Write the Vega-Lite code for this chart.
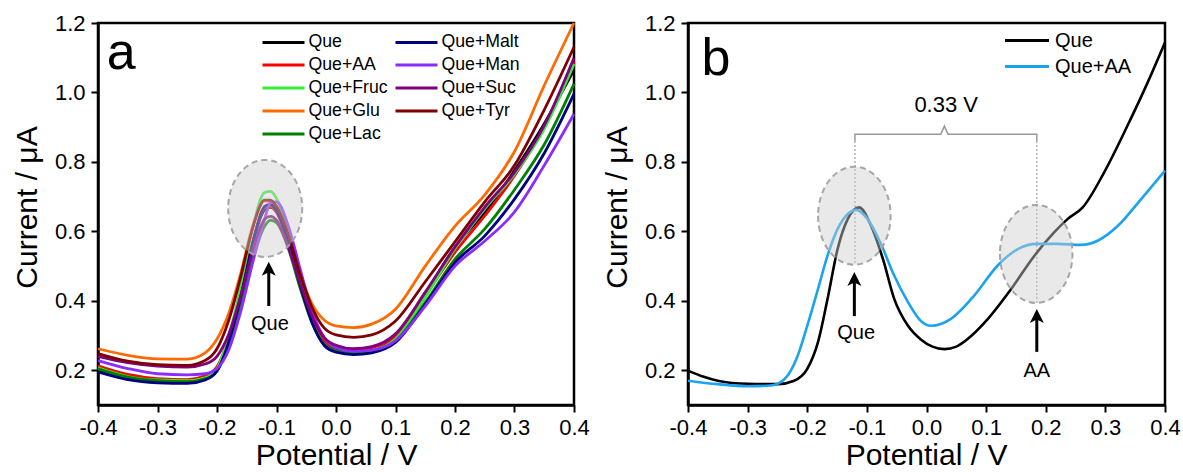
{
  "$schema": "https://vega.github.io/schema/vega-lite/v6.json",
  "padding": {"left": 10, "top": 10, "right": 0, "bottom": 0},
  "config": {
    "font": "Liberation Sans",
    "view": {"stroke": "black", "strokeWidth": 2.5},
    "axis": {
      "grid": false, "domainColor": "black", "domainWidth": 2.5, "tickColor": "black", "tickWidth": 2,
      "labelColor": "black", "labelFontSize": 22, "labelOverlap": false, "labelFlush": false,
      "titleColor": "black", "titleFontSize": 30, "titleFontWeight": "normal"
    },
    "legend": {"padding": 0, "offset": 0, "labelColor": "black", "titleColor": "black"}
  },
  "datasets": {
    "a": [
      {"p":-0.4,"c":0.200,"s":"Que"},{"p":-0.35,"c":0.178,"s":"Que"},{"p":-0.3,"c":0.168,"s":"Que"},{"p":-0.25,"c":0.165,"s":"Que"},{"p":-0.22,"c":0.177,"s":"Que"},{"p":-0.2,"c":0.203,"s":"Que"},{"p":-0.18,"c":0.289,"s":"Que"},{"p":-0.16,"c":0.418,"s":"Que"},{"p":-0.14,"c":0.567,"s":"Que"},{"p":-0.12,"c":0.662,"s":"Que"},{"p":-0.11,"c":0.669,"s":"Que"},{"p":-0.1,"c":0.656,"s":"Que"},{"p":-0.08,"c":0.569,"s":"Que"},{"p":-0.06,"c":0.447,"s":"Que"},{"p":-0.04,"c":0.341,"s":"Que"},{"p":-0.02,"c":0.277,"s":"Que"},{"p":0,"c":0.258,"s":"Que"},{"p":0.03,"c":0.248,"s":"Que"},{"p":0.06,"c":0.255,"s":"Que"},{"p":0.1,"c":0.295,"s":"Que"},{"p":0.15,"c":0.42,"s":"Que"},{"p":0.2,"c":0.555,"s":"Que"},{"p":0.25,"c":0.655,"s":"Que"},{"p":0.3,"c":0.775,"s":"Que"},{"p":0.35,"c":0.91,"s":"Que"},{"p":0.4,"c":1.065,"s":"Que"},
      {"p":-0.4,"c":0.213,"s":"Que+AA"},{"p":-0.35,"c":0.188,"s":"Que+AA"},{"p":-0.3,"c":0.176,"s":"Que+AA"},{"p":-0.25,"c":0.173,"s":"Que+AA"},{"p":-0.22,"c":0.184,"s":"Que+AA"},{"p":-0.2,"c":0.21,"s":"Que+AA"},{"p":-0.18,"c":0.293,"s":"Que+AA"},{"p":-0.16,"c":0.42,"s":"Que+AA"},{"p":-0.14,"c":0.57,"s":"Que+AA"},{"p":-0.12,"c":0.668,"s":"Que+AA"},{"p":-0.11,"c":0.673,"s":"Que+AA"},{"p":-0.1,"c":0.655,"s":"Que+AA"},{"p":-0.08,"c":0.565,"s":"Que+AA"},{"p":-0.06,"c":0.445,"s":"Que+AA"},{"p":-0.04,"c":0.345,"s":"Que+AA"},{"p":-0.02,"c":0.285,"s":"Que+AA"},{"p":0,"c":0.265,"s":"Que+AA"},{"p":0.03,"c":0.258,"s":"Que+AA"},{"p":0.06,"c":0.265,"s":"Que+AA"},{"p":0.1,"c":0.298,"s":"Que+AA"},{"p":0.15,"c":0.415,"s":"Que+AA"},{"p":0.2,"c":0.54,"s":"Que+AA"},{"p":0.25,"c":0.645,"s":"Que+AA"},{"p":0.3,"c":0.76,"s":"Que+AA"},{"p":0.35,"c":0.90,"s":"Que+AA"},{"p":0.4,"c":1.09,"s":"Que+AA"},
      {"p":-0.4,"c":0.207,"s":"Que+Fruc"},{"p":-0.35,"c":0.182,"s":"Que+Fruc"},{"p":-0.3,"c":0.172,"s":"Que+Fruc"},{"p":-0.25,"c":0.170,"s":"Que+Fruc"},{"p":-0.22,"c":0.178,"s":"Que+Fruc"},{"p":-0.2,"c":0.205,"s":"Que+Fruc"},{"p":-0.18,"c":0.30,"s":"Que+Fruc"},{"p":-0.16,"c":0.44,"s":"Que+Fruc"},{"p":-0.14,"c":0.61,"s":"Que+Fruc"},{"p":-0.12,"c":0.712,"s":"Que+Fruc"},{"p":-0.11,"c":0.715,"s":"Que+Fruc"},{"p":-0.1,"c":0.695,"s":"Que+Fruc"},{"p":-0.08,"c":0.595,"s":"Que+Fruc"},{"p":-0.06,"c":0.455,"s":"Que+Fruc"},{"p":-0.04,"c":0.34,"s":"Que+Fruc"},{"p":-0.02,"c":0.275,"s":"Que+Fruc"},{"p":0,"c":0.255,"s":"Que+Fruc"},{"p":0.03,"c":0.248,"s":"Que+Fruc"},{"p":0.06,"c":0.255,"s":"Que+Fruc"},{"p":0.1,"c":0.29,"s":"Que+Fruc"},{"p":0.15,"c":0.41,"s":"Que+Fruc"},{"p":0.2,"c":0.55,"s":"Que+Fruc"},{"p":0.25,"c":0.665,"s":"Que+Fruc"},{"p":0.3,"c":0.765,"s":"Que+Fruc"},{"p":0.35,"c":0.895,"s":"Que+Fruc"},{"p":0.4,"c":1.082,"s":"Que+Fruc"},
      {"p":-0.4,"c":0.262,"s":"Que+Glu"},{"p":-0.35,"c":0.243,"s":"Que+Glu"},{"p":-0.3,"c":0.233,"s":"Que+Glu"},{"p":-0.25,"c":0.232,"s":"Que+Glu"},{"p":-0.22,"c":0.25,"s":"Que+Glu"},{"p":-0.2,"c":0.29,"s":"Que+Glu"},{"p":-0.18,"c":0.365,"s":"Que+Glu"},{"p":-0.16,"c":0.48,"s":"Que+Glu"},{"p":-0.14,"c":0.615,"s":"Que+Glu"},{"p":-0.12,"c":0.688,"s":"Que+Glu"},{"p":-0.11,"c":0.685,"s":"Que+Glu"},{"p":-0.1,"c":0.665,"s":"Que+Glu"},{"p":-0.08,"c":0.585,"s":"Que+Glu"},{"p":-0.06,"c":0.475,"s":"Que+Glu"},{"p":-0.04,"c":0.39,"s":"Que+Glu"},{"p":-0.02,"c":0.345,"s":"Que+Glu"},{"p":0,"c":0.328,"s":"Que+Glu"},{"p":0.03,"c":0.323,"s":"Que+Glu"},{"p":0.06,"c":0.333,"s":"Que+Glu"},{"p":0.1,"c":0.376,"s":"Que+Glu"},{"p":0.15,"c":0.50,"s":"Que+Glu"},{"p":0.2,"c":0.615,"s":"Que+Glu"},{"p":0.25,"c":0.705,"s":"Que+Glu"},{"p":0.3,"c":0.83,"s":"Que+Glu"},{"p":0.35,"c":1.02,"s":"Que+Glu"},{"p":0.4,"c":1.2,"s":"Que+Glu"},
      {"p":-0.4,"c":0.204,"s":"Que+Lac"},{"p":-0.35,"c":0.18,"s":"Que+Lac"},{"p":-0.3,"c":0.17,"s":"Que+Lac"},{"p":-0.25,"c":0.167,"s":"Que+Lac"},{"p":-0.22,"c":0.175,"s":"Que+Lac"},{"p":-0.2,"c":0.198,"s":"Que+Lac"},{"p":-0.18,"c":0.272,"s":"Que+Lac"},{"p":-0.16,"c":0.385,"s":"Que+Lac"},{"p":-0.14,"c":0.52,"s":"Que+Lac"},{"p":-0.12,"c":0.615,"s":"Que+Lac"},{"p":-0.11,"c":0.632,"s":"Que+Lac"},{"p":-0.1,"c":0.625,"s":"Que+Lac"},{"p":-0.08,"c":0.55,"s":"Que+Lac"},{"p":-0.06,"c":0.435,"s":"Que+Lac"},{"p":-0.04,"c":0.335,"s":"Que+Lac"},{"p":-0.02,"c":0.275,"s":"Que+Lac"},{"p":0,"c":0.255,"s":"Que+Lac"},{"p":0.03,"c":0.248,"s":"Que+Lac"},{"p":0.06,"c":0.252,"s":"Que+Lac"},{"p":0.1,"c":0.285,"s":"Que+Lac"},{"p":0.15,"c":0.395,"s":"Que+Lac"},{"p":0.2,"c":0.52,"s":"Que+Lac"},{"p":0.25,"c":0.607,"s":"Que+Lac"},{"p":0.3,"c":0.72,"s":"Que+Lac"},{"p":0.35,"c":0.85,"s":"Que+Lac"},{"p":0.4,"c":1.025,"s":"Que+Lac"},
      {"p":-0.4,"c":0.195,"s":"Que+Malt"},{"p":-0.35,"c":0.173,"s":"Que+Malt"},{"p":-0.3,"c":0.164,"s":"Que+Malt"},{"p":-0.25,"c":0.162,"s":"Que+Malt"},{"p":-0.22,"c":0.172,"s":"Que+Malt"},{"p":-0.2,"c":0.198,"s":"Que+Malt"},{"p":-0.18,"c":0.283,"s":"Que+Malt"},{"p":-0.16,"c":0.413,"s":"Que+Malt"},{"p":-0.14,"c":0.565,"s":"Que+Malt"},{"p":-0.12,"c":0.672,"s":"Que+Malt"},{"p":-0.11,"c":0.678,"s":"Que+Malt"},{"p":-0.1,"c":0.66,"s":"Que+Malt"},{"p":-0.08,"c":0.57,"s":"Que+Malt"},{"p":-0.06,"c":0.445,"s":"Que+Malt"},{"p":-0.04,"c":0.337,"s":"Que+Malt"},{"p":-0.02,"c":0.272,"s":"Que+Malt"},{"p":0,"c":0.252,"s":"Que+Malt"},{"p":0.03,"c":0.245,"s":"Que+Malt"},{"p":0.06,"c":0.25,"s":"Que+Malt"},{"p":0.1,"c":0.28,"s":"Que+Malt"},{"p":0.15,"c":0.39,"s":"Que+Malt"},{"p":0.2,"c":0.51,"s":"Que+Malt"},{"p":0.25,"c":0.587,"s":"Que+Malt"},{"p":0.3,"c":0.693,"s":"Que+Malt"},{"p":0.35,"c":0.825,"s":"Que+Malt"},{"p":0.4,"c":0.996,"s":"Que+Malt"},
      {"p":-0.4,"c":0.228,"s":"Que+Man"},{"p":-0.35,"c":0.205,"s":"Que+Man"},{"p":-0.3,"c":0.19,"s":"Que+Man"},{"p":-0.25,"c":0.187,"s":"Que+Man"},{"p":-0.22,"c":0.19,"s":"Que+Man"},{"p":-0.2,"c":0.205,"s":"Que+Man"},{"p":-0.18,"c":0.26,"s":"Que+Man"},{"p":-0.16,"c":0.37,"s":"Que+Man"},{"p":-0.14,"c":0.51,"s":"Que+Man"},{"p":-0.12,"c":0.635,"s":"Que+Man"},{"p":-0.11,"c":0.683,"s":"Que+Man"},{"p":-0.1,"c":0.685,"s":"Que+Man"},{"p":-0.08,"c":0.615,"s":"Que+Man"},{"p":-0.06,"c":0.49,"s":"Que+Man"},{"p":-0.04,"c":0.37,"s":"Que+Man"},{"p":-0.02,"c":0.295,"s":"Que+Man"},{"p":0,"c":0.265,"s":"Que+Man"},{"p":0.03,"c":0.255,"s":"Que+Man"},{"p":0.06,"c":0.258,"s":"Que+Man"},{"p":0.1,"c":0.285,"s":"Que+Man"},{"p":0.15,"c":0.385,"s":"Que+Man"},{"p":0.2,"c":0.50,"s":"Que+Man"},{"p":0.25,"c":0.572,"s":"Que+Man"},{"p":0.3,"c":0.656,"s":"Que+Man"},{"p":0.35,"c":0.79,"s":"Que+Man"},{"p":0.4,"c":0.938,"s":"Que+Man"},
      {"p":-0.4,"c":0.24,"s":"Que+Suc"},{"p":-0.35,"c":0.222,"s":"Que+Suc"},{"p":-0.3,"c":0.212,"s":"Que+Suc"},{"p":-0.25,"c":0.209,"s":"Que+Suc"},{"p":-0.22,"c":0.218,"s":"Que+Suc"},{"p":-0.2,"c":0.24,"s":"Que+Suc"},{"p":-0.18,"c":0.305,"s":"Que+Suc"},{"p":-0.16,"c":0.415,"s":"Que+Suc"},{"p":-0.14,"c":0.545,"s":"Que+Suc"},{"p":-0.12,"c":0.635,"s":"Que+Suc"},{"p":-0.11,"c":0.643,"s":"Que+Suc"},{"p":-0.1,"c":0.632,"s":"Que+Suc"},{"p":-0.08,"c":0.555,"s":"Que+Suc"},{"p":-0.06,"c":0.45,"s":"Que+Suc"},{"p":-0.04,"c":0.355,"s":"Que+Suc"},{"p":-0.02,"c":0.295,"s":"Que+Suc"},{"p":0,"c":0.272,"s":"Que+Suc"},{"p":0.03,"c":0.262,"s":"Que+Suc"},{"p":0.06,"c":0.268,"s":"Que+Suc"},{"p":0.1,"c":0.305,"s":"Que+Suc"},{"p":0.15,"c":0.425,"s":"Que+Suc"},{"p":0.2,"c":0.555,"s":"Que+Suc"},{"p":0.25,"c":0.67,"s":"Que+Suc"},{"p":0.3,"c":0.77,"s":"Que+Suc"},{"p":0.35,"c":0.905,"s":"Que+Suc"},{"p":0.4,"c":1.10,"s":"Que+Suc"},
      {"p":-0.4,"c":0.248,"s":"Que+Tyr"},{"p":-0.35,"c":0.226,"s":"Que+Tyr"},{"p":-0.3,"c":0.216,"s":"Que+Tyr"},{"p":-0.25,"c":0.214,"s":"Que+Tyr"},{"p":-0.22,"c":0.228,"s":"Que+Tyr"},{"p":-0.2,"c":0.262,"s":"Que+Tyr"},{"p":-0.18,"c":0.345,"s":"Que+Tyr"},{"p":-0.16,"c":0.47,"s":"Que+Tyr"},{"p":-0.14,"c":0.61,"s":"Que+Tyr"},{"p":-0.12,"c":0.69,"s":"Que+Tyr"},{"p":-0.11,"c":0.69,"s":"Que+Tyr"},{"p":-0.1,"c":0.672,"s":"Que+Tyr"},{"p":-0.08,"c":0.59,"s":"Que+Tyr"},{"p":-0.06,"c":0.475,"s":"Que+Tyr"},{"p":-0.04,"c":0.38,"s":"Que+Tyr"},{"p":-0.02,"c":0.322,"s":"Que+Tyr"},{"p":0,"c":0.302,"s":"Que+Tyr"},{"p":0.03,"c":0.295,"s":"Que+Tyr"},{"p":0.06,"c":0.302,"s":"Que+Tyr"},{"p":0.1,"c":0.342,"s":"Que+Tyr"},{"p":0.15,"c":0.455,"s":"Que+Tyr"},{"p":0.2,"c":0.57,"s":"Que+Tyr"},{"p":0.25,"c":0.685,"s":"Que+Tyr"},{"p":0.3,"c":0.79,"s":"Que+Tyr"},{"p":0.35,"c":0.95,"s":"Que+Tyr"},{"p":0.4,"c":1.131,"s":"Que+Tyr"}
    ],
    "b": [
      {"p":-0.4,"c":0.199,"t":"Que"},{"p":-0.375,"c":0.182,"t":"Que"},{"p":-0.35,"c":0.170,"t":"Que"},{"p":-0.3,"c":0.161,"t":"Que"},{"p":-0.25,"c":0.160,"t":"Que"},{"p":-0.222,"c":0.170,"t":"Que"},{"p":-0.2,"c":0.204,"t":"Que"},{"p":-0.182,"c":0.281,"t":"Que"},{"p":-0.166,"c":0.405,"t":"Que"},{"p":-0.149,"c":0.55,"t":"Que"},{"p":-0.132,"c":0.636,"t":"Que"},{"p":-0.113,"c":0.669,"t":"Que"},{"p":-0.093,"c":0.616,"t":"Que"},{"p":-0.073,"c":0.52,"t":"Que"},{"p":-0.054,"c":0.405,"t":"Que"},{"p":-0.031,"c":0.328,"t":"Que"},{"p":-0.009,"c":0.288,"t":"Que"},{"p":0.01,"c":0.268,"t":"Que"},{"p":0.03,"c":0.261,"t":"Que"},{"p":0.05,"c":0.268,"t":"Que"},{"p":0.069,"c":0.29,"t":"Que"},{"p":0.103,"c":0.348,"t":"Que"},{"p":0.142,"c":0.434,"t":"Que"},{"p":0.181,"c":0.53,"t":"Que"},{"p":0.214,"c":0.597,"t":"Que"},{"p":0.237,"c":0.636,"t":"Que"},{"p":0.262,"c":0.669,"t":"Que"},{"p":0.298,"c":0.77,"t":"Que"},{"p":0.337,"c":0.904,"t":"Que"},{"p":0.371,"c":1.029,"t":"Que"},{"p":0.4,"c":1.144,"t":"Que"},
      {"p":-0.4,"c":0.170,"t":"Que+AA"},{"p":-0.35,"c":0.160,"t":"Que+AA"},{"p":-0.3,"c":0.154,"t":"Que+AA"},{"p":-0.262,"c":0.156,"t":"Que+AA"},{"p":-0.238,"c":0.175,"t":"Que+AA"},{"p":-0.216,"c":0.242,"t":"Que+AA"},{"p":-0.2,"c":0.328,"t":"Que+AA"},{"p":-0.182,"c":0.434,"t":"Que+AA"},{"p":-0.166,"c":0.53,"t":"Que+AA"},{"p":-0.149,"c":0.607,"t":"Que+AA"},{"p":-0.132,"c":0.65,"t":"Que+AA"},{"p":-0.118,"c":0.662,"t":"Que+AA"},{"p":-0.099,"c":0.636,"t":"Que+AA"},{"p":-0.076,"c":0.562,"t":"Que+AA"},{"p":-0.054,"c":0.472,"t":"Que+AA"},{"p":-0.031,"c":0.396,"t":"Que+AA"},{"p":-0.009,"c":0.341,"t":"Que+AA"},{"p":0.008,"c":0.328,"t":"Que+AA"},{"p":0.041,"c":0.348,"t":"Que+AA"},{"p":0.08,"c":0.415,"t":"Que+AA"},{"p":0.119,"c":0.501,"t":"Que+AA"},{"p":0.153,"c":0.549,"t":"Que+AA"},{"p":0.186,"c":0.564,"t":"Que+AA"},{"p":0.22,"c":0.564,"t":"Que+AA"},{"p":0.259,"c":0.561,"t":"Que+AA"},{"p":0.287,"c":0.573,"t":"Que+AA"},{"p":0.321,"c":0.616,"t":"Que+AA"},{"p":0.36,"c":0.693,"t":"Que+AA"},{"p":0.4,"c":0.775,"t":"Que+AA"}
    ],
    "brace": [
      {"o":1,"p":-0.12,"c":0.86},{"o":2,"p":-0.12,"c":0.88},{"o":3,"p":0.024,"c":0.88},{"o":4,"p":0.03,"c":0.903},{"o":5,"p":0.036,"c":0.88},{"o":6,"p":0.185,"c":0.88},{"o":7,"p":0.185,"c":0.86}
    ]
  },
  "spacing": 114,
  "bounds": "flush",
  "resolve": {"scale": {"color": "independent"}, "legend": {"color": "independent"}},
  "hconcat": [
    {
      "width": 476, "height": 382,
      "layer": [
        {
          "data": {"name": "a"},
          "mark": {"type": "line", "strokeWidth": 2.8, "interpolate": "monotone"},
          "encoding": {
            "x": {"field": "p", "type": "quantitative", "scale": {"domain": [-0.4, 0.4], "nice": false, "zero": false},
              "axis": {"title": "Potential / V", "values": [-0.4,-0.35,-0.3,-0.25,-0.2,-0.15,-0.1,-0.05,0,0.05,0.1,0.15,0.2,0.25,0.3,0.35,0.4],
                "labelExpr": "abs(round(datum.value*20)) % 2 == 1 ? '' : replace(format(datum.value, '.1f'), '\u2212', '-')",
                "tickSize": {"condition": {"test": "abs(round(datum.value*20)) % 2 == 1", "value": 4}, "value": 7},
                "labelPadding": 5, "titleX": 238, "titleY": 59, "titleBaseline": "alphabetic", "titleAlign": "center"}},
            "y": {"field": "c", "type": "quantitative", "scale": {"domain": [0.1, 1.2], "nice": false, "zero": false},
              "axis": {"title": "Current / μA", "values": [0.2,0.3,0.4,0.5,0.6,0.7,0.8,0.9,1.0,1.1,1.2],
                "labelExpr": "round(datum.value*10) % 2 == 1 ? '' : format(datum.value, '.1f')",
                "tickSize": {"condition": {"test": "round(datum.value*10) % 2 == 1", "value": 4}, "value": 7},
                "labelPadding": 6, "titleX": -62, "titleY": 184, "titleAngle": -90, "titleBaseline": "alphabetic", "titleAlign": "center"}},
            "color": {"field": "s", "type": "nominal",
              "scale": {"domain": ["Que","Que+AA","Que+Fruc","Que+Glu","Que+Lac","Que+Malt","Que+Man","Que+Suc","Que+Tyr"],
                        "range": ["#000000","#ff0000","#33ee33","#ff6a00","#008000","#00007f","#8b2cff","#800080","#7f0000"]},
              "legend": {"title": null, "orient": "none", "legendX": 163, "legendY": 7.5, "columns": 2,
                "symbolType": "M -1 0 L 3.2 0", "symbolSize": 400, "symbolStrokeWidth": 3, "labelFontSize": 17.7, "labelOffset": 24.5, "rowPadding": 2, "columnPadding": 1}}
          }
        },
        {
          "data": {"values": [{}]},
          "mark": {"type": "point", "shape": "M -0.763 0 A 0.763 1 0 1 0 0.763 0 A 0.763 1 0 1 0 -0.763 0 Z", "size": 9409, "filled": true,
            "fill": "#cfcfcf", "fillOpacity": 0.45, "stroke": "#a6a6a6", "strokeWidth": 2, "strokeDash": [6, 4], "opacity": 1},
          "encoding": {"x": {"datum": -0.119}, "y": {"datum": 0.666}}
        },
        {
          "data": {"values": [{}]},
          "mark": {"type": "rule", "color": "black", "strokeWidth": 3},
          "encoding": {"x": {"datum": -0.113}, "y": {"datum": 0.385}, "y2": {"datum": 0.49}}
        },
        {
          "data": {"values": [{}]},
          "mark": {"type": "point", "shape": "M 0 -1 L 1 1 L 0 0.5 L -1 1 Z", "size": 196, "filled": true, "color": "black", "opacity": 1},
          "encoding": {"x": {"datum": -0.113}, "y": {"datum": 0.492}}
        },
        {
          "data": {"values": [{"label": "Que"}]},
          "mark": {"type": "text", "fontSize": 20, "align": "center", "baseline": "alphabetic", "color": "black"},
          "encoding": {"x": {"datum": -0.111}, "y": {"datum": 0.316}, "text": {"field": "label"}}
        },
        {
          "data": {"values": [{"label": "a"}]},
          "mark": {"type": "text", "fontSize": 52, "align": "center", "baseline": "alphabetic", "color": "black"},
          "encoding": {"x": {"datum": -0.361}, "y": {"datum": 1.068}, "text": {"field": "label"}}
        }
      ]
    },
    {
      "width": 477, "height": 382,
      "layer": [
        {
          "data": {"name": "brace"},
          "mark": {"type": "line", "color": "#999999", "strokeWidth": 1.5},
          "encoding": {"x": {"field": "p", "type": "quantitative"}, "y": {"field": "c", "type": "quantitative"}, "order": {"field": "o"}}
        },
        {
          "data": {"values": [{}]},
          "mark": {"type": "rule", "color": "#b0b0b0", "strokeWidth": 1.5, "strokeDash": [2, 2]},
          "encoding": {"x": {"datum": -0.12}, "y": {"datum": 0.86}, "y2": {"datum": 0.504}}
        },
        {
          "data": {"values": [{}]},
          "mark": {"type": "rule", "color": "#b0b0b0", "strokeWidth": 1.5, "strokeDash": [2, 2]},
          "encoding": {"x": {"datum": 0.185}, "y": {"datum": 0.86}, "y2": {"datum": 0.394}}
        },
        {
          "data": {"name": "b"},
          "mark": {"type": "line", "strokeWidth": 2.6, "interpolate": "monotone"},
          "encoding": {
            "x": {"field": "p", "type": "quantitative", "scale": {"domain": [-0.4, 0.4], "nice": false, "zero": false},
              "axis": {"title": "Potential / V", "values": [-0.4,-0.35,-0.3,-0.25,-0.2,-0.15,-0.1,-0.05,0,0.05,0.1,0.15,0.2,0.25,0.3,0.35,0.4],
                "labelExpr": "abs(round(datum.value*20)) % 2 == 1 ? '' : replace(format(datum.value, '.1f'), '\u2212', '-')",
                "tickSize": {"condition": {"test": "abs(round(datum.value*20)) % 2 == 1", "value": 4}, "value": 7},
                "labelPadding": 5, "titleX": 238, "titleY": 59, "titleBaseline": "alphabetic", "titleAlign": "center"}},
            "y": {"field": "c", "type": "quantitative", "scale": {"domain": [0.1, 1.2], "nice": false, "zero": false},
              "axis": {"title": "Current / μA", "values": [0.2,0.3,0.4,0.5,0.6,0.7,0.8,0.9,1.0,1.1,1.2],
                "labelExpr": "round(datum.value*10) % 2 == 1 ? '' : format(datum.value, '.1f')",
                "tickSize": {"condition": {"test": "round(datum.value*10) % 2 == 1", "value": 4}, "value": 7},
                "labelPadding": 6, "titleX": -62, "titleY": 184, "titleAngle": -90, "titleBaseline": "alphabetic", "titleAlign": "center"}},
            "color": {"field": "t", "type": "nominal",
              "scale": {"domain": ["Que","Que+AA"], "range": ["#000000","#1aa3ef"]},
              "legend": {"title": null, "orient": "none", "legendX": 315.5, "legendY": 6,
                "symbolType": "M -1 0 L 3.4 0", "symbolSize": 400, "symbolStrokeWidth": 3, "labelFontSize": 20, "labelOffset": 28.5, "rowPadding": 4}}
          }
        },
        {
          "data": {"values": [{"x": -0.121, "y": 0.645}, {"x": 0.184, "y": 0.535}]},
          "mark": {"type": "point", "shape": "M -0.74 0 A 0.74 1 0 1 0 0.74 0 A 0.74 1 0 1 0 -0.74 0 Z", "size": 9604, "filled": true,
            "fill": "#cfcfcf", "fillOpacity": 0.45, "stroke": "#a6a6a6", "strokeWidth": 2, "strokeDash": [6, 4], "opacity": 1},
          "encoding": {"x": {"field": "x", "type": "quantitative"}, "y": {"field": "y", "type": "quantitative"}}
        },
        {
          "data": {"values": [{"x": -0.121, "y": 0.356, "y2": 0.46}, {"x": 0.185, "y": 0.253, "y2": 0.35}]},
          "mark": {"type": "rule", "color": "black", "strokeWidth": 3},
          "encoding": {"x": {"field": "x", "type": "quantitative"}, "y": {"field": "y", "type": "quantitative"}, "y2": {"field": "y2"}}
        },
        {
          "data": {"values": [{"x": -0.121, "y": 0.463}, {"x": 0.185, "y": 0.356}]},
          "mark": {"type": "point", "shape": "M 0 -1 L 1 1 L 0 0.5 L -1 1 Z", "size": 196, "filled": true, "color": "black", "opacity": 1},
          "encoding": {"x": {"field": "x", "type": "quantitative"}, "y": {"field": "y", "type": "quantitative"}}
        },
        {
          "data": {"values": [{"x": -0.118, "y": 0.29, "label": "Que"}, {"x": 0.185, "y": 0.181, "label": "AA"}]},
          "mark": {"type": "text", "fontSize": 20, "align": "center", "baseline": "alphabetic", "color": "black"},
          "encoding": {"x": {"field": "x", "type": "quantitative"}, "y": {"field": "y", "type": "quantitative"}, "text": {"field": "label"}}
        },
        {
          "data": {"values": [{"x": 0.033, "y": 0.944, "label": "0.33 V"}, {"x": -0.353, "y": 1.05, "label": "b"}]},
          "mark": {"type": "text", "align": "center", "baseline": "alphabetic", "color": "black"},
          "encoding": {"x": {"field": "x", "type": "quantitative"}, "y": {"field": "y", "type": "quantitative"}, "text": {"field": "label"},
            "size": {"condition": {"test": "datum.label == 'b'", "value": 52}, "value": 22}}
        }
      ]
    }
  ]
}
